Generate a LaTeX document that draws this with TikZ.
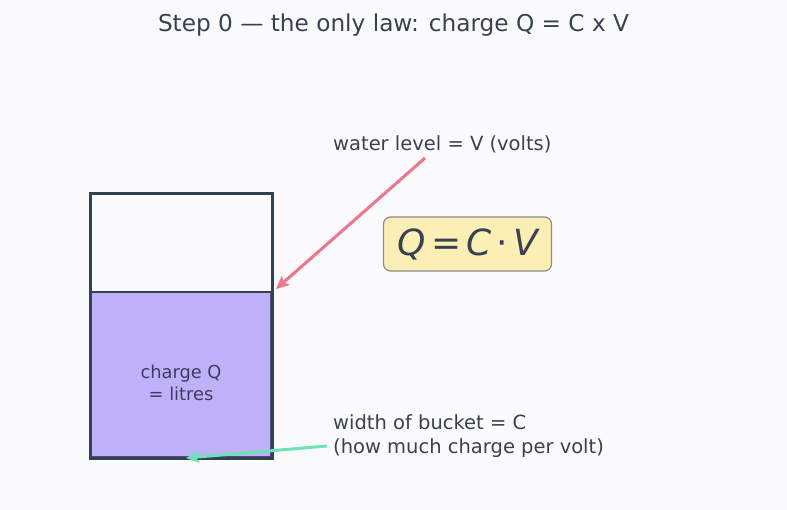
\documentclass[tikz,border=0pt]{standalone}
\usepackage{fontspec}
\setmainfont{DejaVu Sans}
\usetikzlibrary{positioning,arrows.meta}

\definecolor{ink}{HTML}{374151}
\definecolor{rim}{HTML}{334155}
\definecolor{water}{HTML}{BEB1F9}
\definecolor{waterline}{HTML}{4A4A7C}
\definecolor{watertext}{HTML}{3F3A63}
\definecolor{pinkarrow}{HTML}{F2748A}
\definecolor{greenarrow}{HTML}{6EE2B4}
\definecolor{lawfill}{HTML}{FBEFB6}
\definecolor{paper}{HTML}{FBFBFD}

\tikzset{
  label text/.style={font=\fontsize{19.5}{23.5}\selectfont, text=ink, inner sep=0pt},
  pointer/.style={line width=3pt, -{Stealth[length=13pt,width=12pt,inset=3pt]}},
}

\begin{document}
\begin{tikzpicture}[x=1pt, y=-1pt]
  % Page
  \fill[paper] (0,0) rectangle (787,510);
  \useasboundingbox (0,0) rectangle (787,510);

  % Title
  \node[font=\fontsize{23.2}{28}\selectfont, text=ink] (title) at (393.5,25) {Step 0 — the only law: charge Q = C x V};

  % Bucket with water
  \fill[water] (91,292) rectangle (271,457);
  \draw[waterline, line width=1.5pt] (91,292) rectangle (271,457);
  \draw[rim, line width=2.5pt] (90,292) -- (272,292);
  \draw[rim, line width=3pt] (90,194) rectangle (272,458);
  \node[font=\fontsize{17.8}{22}\selectfont, text=watertext, align=center] (water) at (181,383) {charge Q\\= litres};

  % Level label and its arrow
  \node[label text, anchor=west] (level) at (333,144) {water level = V (volts)};
  \coordinate (level tail) at (425,158);
  \coordinate (level head) at (276,289);
  \draw[pointer, pinkarrow] (level tail) -- (level head);

  % The law
  \node[draw=gray!90, fill=lawfill, rounded corners=7pt, line width=1.2pt,
        minimum width=168pt, minimum height=54pt, text=ink, inner sep=0pt,
        font=\fontsize{36}{42}\selectfont\itshape] (law) at (467.5,244)
        {Q\hspace{6pt}{\upshape=}\hspace{5pt}C\hspace{5pt}{\upshape ⋅}\hspace{5pt}V};

  % Width label and its arrow
  \node[label text, anchor=west, align=left] (width) at (333,436)
        {width of bucket = C\\(how much charge per volt)};
  \coordinate (width tail) at (327,446);
  \coordinate (width head) at (186,458);
  \draw[pointer, greenarrow] (width tail) -- (width head);
\end{tikzpicture}
\end{document}
